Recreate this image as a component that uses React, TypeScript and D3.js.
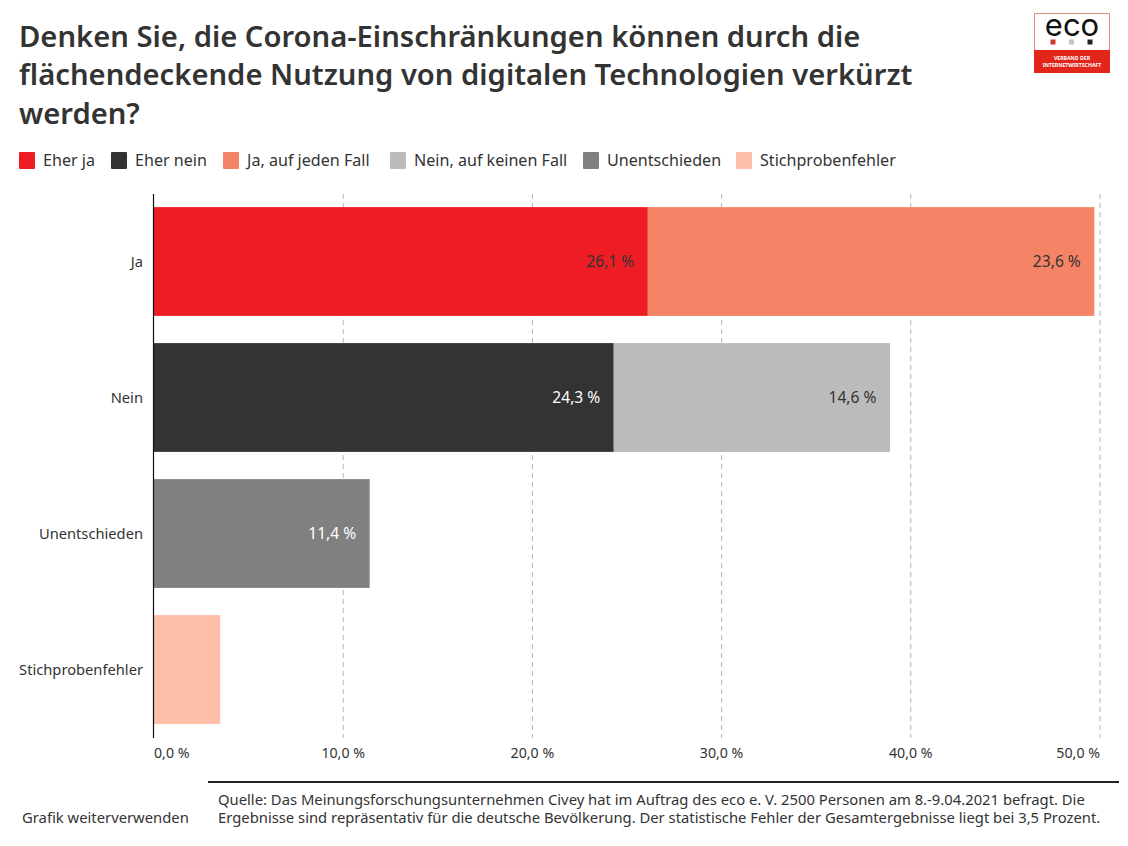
import React, { useEffect, useRef } from 'react'
import * as d3 from 'd3'

const width = 1128
const height = 846
const fontFamily = '"Noto Sans", sans-serif'
const textColor = '#333333'

const categories = ['Ja', 'Nein', 'Unentschieden', 'Stichprobenfehler']
const seriesNames = ['Eher ja', 'Eher nein', 'Ja, auf jeden Fall', 'Nein, auf keinen Fall', 'Unentschieden', 'Stichprobenfehler']
const eherJa = [26.1, 0, 0, 0]
const eherNein = [0, 24.3, 0, 0]
const jaAufJedenFall = [23.6, 0, 0, 0]
const neinAufKeinenFall = [0, 14.6, 0, 0]
const unentschieden = [0, 0, 11.4, 0]
const stichprobenfehler = [0, 0, 0, 3.5]
const seriesValues = [eherJa, eherNein, jaAufJedenFall, neinAufKeinenFall, unentschieden, stichprobenfehler]
const seriesColors = ['#ee1c25', '#333333', '#f58466', '#bbbbbb', '#808080', '#fdbfa8']
const labelColors = ['#333333', '#ffffff', '#333333', '#333333', '#ffffff', null]
const tickValues = [0, 10, 20, 30, 40, 50]

const titleLines = [
  'Denken Sie, die Corona-Einschränkungen können durch die',
  'flächendeckende Nutzung von digitalen Technologien verkürzt',
  'werden?',
]
const sourceLines = [
  'Quelle: Das Meinungsforschungsunternehmen Civey hat im Auftrag des eco e. V. 2500 Personen am 8.-9.04.2021 befragt. Die',
  'Ergebnisse sind repräsentativ für die deutsche Bevölkerung. Der statistische Fehler der Gesamtergebnisse liegt bei 3,5 Prozent.',
]

const legendX = [19, 111, 223, 390, 583, 736]
const fmt = (v: number) => v.toFixed(1).replace('.', ',') + ' %'

const App = () => {
  const ref = useRef<SVGSVGElement>(null)

  useEffect(() => {
    const svg = d3.select(ref.current)
    svg.selectAll('*').remove()

    const x = d3.scaleLinear().domain([0, 50]).range([154, 1100])
    const y = d3.scaleBand().domain(categories).range([194, 738]).paddingInner(0.2).paddingOuter(0.1)

    const rows = categories.map((c, i) => {
      const row: Record<string, number | string> = { category: c }
      seriesNames.forEach((s, j) => { row[s] = seriesValues[j][i] })
      return row
    })
    const stacked = d3.stack<any>().keys(seriesNames)(rows)

    // title
    svg.append('g').selectAll('text').data(titleLines).join('text')
      .attr('x', 19)
      .attr('y', (d, i) => 47 + i * 38.3)
      .attr('font-size', 29.2)
      .attr('font-weight', 600)
      .attr('fill', textColor)
      .text(d => d)

    // legend
    const legend = svg.append('g').selectAll('g').data(seriesNames).join('g')
      .attr('transform', (d, i) => `translate(${legendX[i]},152)`)
    legend.append('rect').attr('width', 16).attr('height', 17).attr('rx', 1)
      .attr('fill', (d, i) => seriesColors[i])
    legend.append('text').attr('x', 24).attr('y', 14)
      .attr('font-size', 16.1).attr('fill', textColor).text(d => d)

    // grid
    svg.append('g').selectAll('line').data(tickValues.slice(1)).join('line')
      .attr('x1', d => x(d)).attr('x2', d => x(d))
      .attr('y1', 194).attr('y2', 738)
      .attr('stroke', '#b5b5b5').attr('stroke-width', 1).attr('stroke-dasharray', '5 4')

    // bars
    const groups = svg.append('g').selectAll('g').data(stacked).join('g')
      .attr('fill', (d, i) => seriesColors[i])
    groups.selectAll('rect')
      .data(d => d.filter(p => p[1] > p[0]).map(p => ({ p, category: p.data.category as string })))
      .join('rect')
      .attr('x', d => x(d.p[0]))
      .attr('width', d => x(d.p[1]) - x(d.p[0]))
      .attr('y', d => (y(d.category) as number) - 0.5)
      .attr('height', y.bandwidth())

    // value labels
    const labels = svg.append('g')
    stacked.forEach((s, i) => {
      if (!labelColors[i]) return
      s.filter(p => p[1] > p[0]).forEach(p => {
        labels.append('text')
          .attr('x', x(p[1]) - 13.5)
          .attr('y', (y(p.data.category as string) as number) + y.bandwidth() / 2 - 0.5)
          .attr('dy', '0.35em')
          .attr('text-anchor', 'end')
          .attr('font-size', 15.6)
          .attr('fill', labelColors[i] as string)
          .text(fmt(p[1] - p[0]))
      })
    })

    // axes
    svg.append('line').attr('x1', 153.5).attr('x2', 153.5).attr('y1', 194).attr('y2', 738)
      .attr('stroke', '#111111').attr('stroke-width', 1.2)

    svg.append('g').selectAll('text').data(categories).join('text')
      .attr('x', 143)
      .attr('y', d => (y(d) as number) + y.bandwidth() / 2 - 0.5)
      .attr('dy', '0.35em')
      .attr('text-anchor', 'end')
      .attr('font-size', 14.7)
      .attr('fill', textColor)
      .text(d => d)

    svg.append('g').selectAll('text').data(tickValues).join('text')
      .attr('x', d => x(d))
      .attr('y', 758)
      .attr('text-anchor', d => d === 0 ? 'start' : d === 50 ? 'end' : 'middle')
      .attr('font-size', 14.2)
      .attr('fill', textColor)
      .text(d => fmt(d))

    // footer
    svg.append('line').attr('x1', 208).attr('x2', 1119).attr('y1', 782).attr('y2', 782)
      .attr('stroke', '#222222').attr('stroke-width', 2)
    svg.append('text').attr('x', 22).attr('y', 823)
      .attr('font-size', 14.8).attr('fill', textColor).text('Grafik weiterverwenden')
    svg.append('text')
      .attr('font-size', 14.8)
      .attr('fill', textColor)
      .selectAll('tspan').data(sourceLines).join('tspan')
      .attr('x', 218)
      .attr('y', (d, i) => 805 + i * 17.5)
      .text(d => d)

    // logo
    const logo = svg.append('g').attr('transform', 'translate(1034,13)')
    logo.append('rect').attr('x', 0.5).attr('y', 0.5).attr('width', 75).attr('height', 59)
      .attr('fill', '#ffffff').attr('stroke', '#d9907f')
    logo.append('rect').attr('y', 37).attr('width', 76).attr('height', 23).attr('fill', '#e2261c')
    logo.append('text').attr('x', 38).attr('y', 23).attr('text-anchor', 'middle')
      .attr('font-family', 'Inter, sans-serif')
      .attr('font-size', 31).attr('fill', '#111111').text('eco')
    logo.selectAll('rect.dot').data(['#d5352c', '#c4c4c4', '#222222']).join('rect')
      .attr('class', 'dot')
      .attr('x', (d, i) => 16.5 + i * 18.5)
      .attr('y', 26.5).attr('width', 5).attr('height', 5).attr('fill', d => d)
    logo.selectAll('text.sub').data(['VERBAND DER', 'INTERNETWIRTSCHAFT']).join('text')
      .attr('class', 'sub')
      .attr('x', 38)
      .attr('y', (d, i) => 47 + i * 7)
      .attr('text-anchor', 'middle')
      .attr('font-size', 5.2)
      .attr('font-weight', 700)
      .attr('fill', '#ffffff')
      .text(d => d)
  }, [])

  return (
    <svg
      ref={ref}
      width={width}
      height={height}
      viewBox={`0 0 ${width} ${height}`}
      style={{ position: 'absolute', left: 0, top: 0, background: '#fff', fontFamily }}
    />
  )
}

export default App
